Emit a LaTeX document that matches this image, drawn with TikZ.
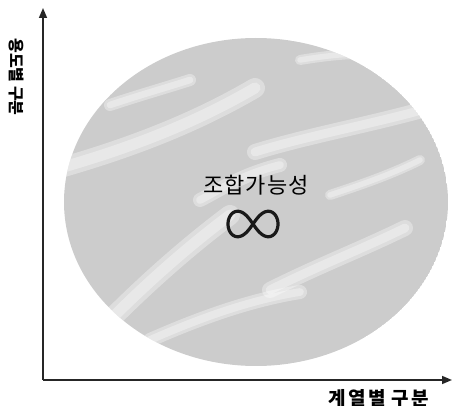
\documentclass[tikz,border=0pt]{standalone}
\usepackage{fontspec}
\newfontfamily\kr{Noto Sans CJK KR}
\usetikzlibrary{arrows.meta}
\begin{document}
\begin{tikzpicture}[x=1pt,y=-1pt,
  axis/.style={line width=1.6pt,draw=black!85,-{Triangle[length=10pt,width=8pt]}},
  streak/.style={white,opacity=0.35,line cap=round,line width=#1},
  streak/.default=14pt,
  lbl/.style={font=\kr\bfseries\fontsize{19}{21}\selectfont\addfontfeature{LetterSpace=12},inner sep=0pt}]
\useasboundingbox (0,0) rectangle (456,406);
\coordinate (o) at (43,380);
\coordinate (ytip) at (43,8);
\coordinate (xtip) at (452,380);
% textured blob
\begin{scope}
\path[clip] (256,202) ellipse [x radius=192, y radius=164];
\fill[black!20] (256,202) ellipse [x radius=192, y radius=164];
\foreach \w in {20,11}{
\draw[streak=\w pt] (60,168) .. controls (140,145) and (200,120) .. (255,88);
\draw[streak=0.8*\w pt] (255,152) .. controls (310,135) and (370,125) .. (440,105);
\draw[streak=\w pt] (110,320) .. controls (150,280) and (190,245) .. (230,215);
\draw[streak=0.8*\w pt] (270,290) .. controls (320,265) and (360,250) .. (405,228);
\draw[streak=0.7*\w pt] (150,340) .. controls (200,318) and (250,300) .. (300,292);
\draw[streak=0.6*\w pt] (110,105) .. controls (140,95) and (165,88) .. (190,80);
\draw[streak=0.5*\w pt] (300,60) .. controls (330,55) and (360,52) .. (390,55);
\draw[streak=0.7*\w pt] (200,200) .. controls (220,190) and (240,175) .. (280,165);
\draw[streak=0.5*\w pt] (330,195) .. controls (360,185) and (390,175) .. (420,160);
}
\end{scope}
\node[font=\kr\fontsize{22}{24}\selectfont\addfontfeature{LetterSpace=5},inner sep=0pt] (title) at (256,185) {조합가능성};
\draw[line width=3.2pt,black!90] plot[domain=0:360,samples=120,smooth]
  ({253+25*cos(\x)/(1+sin(\x)^2)},{224+36*sin(\x)*cos(\x)/(1+sin(\x)^2)});
% axes
\draw[axis] (o) -- (ytip);
\draw[axis] (o) -- (xtip);
\node[lbl] (xl) at (379,398) {계열별\hspace{6pt}구분};
\node[lbl,rotate=-90,font=\kr\bfseries\fontsize{16}{18}\selectfont] (yl) at (16,77) {용도별 구분};
\end{tikzpicture}
\end{document}
